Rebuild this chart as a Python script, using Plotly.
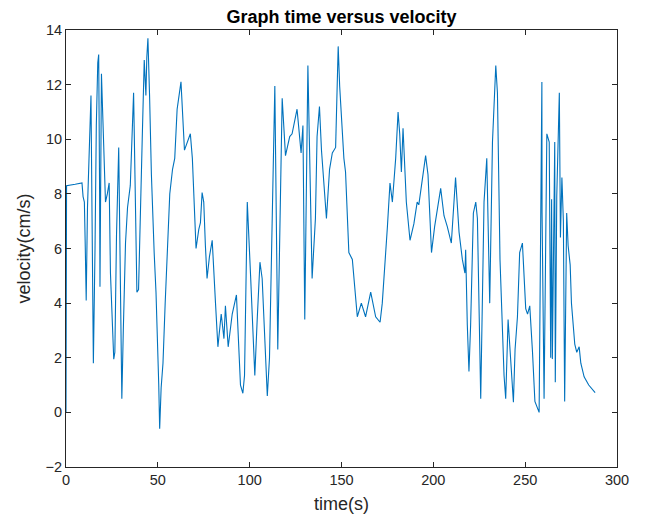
import plotly.graph_objects as go

time_s = [0, 0.3, 5, 8.7, 9.3, 10, 10.5, 11, 11.7, 12.4, 13.6, 14.2, 14.9, 15.8, 16.5, 17.3, 17.8, 18.3, 18.5,
          19.3, 20.5, 21.5, 22.5, 23.5, 24.2, 25, 26, 26.6, 27.5, 28.7, 29.5, 30.4, 31.2, 32.4, 33.5, 35,
          36.8, 37.5, 38.6, 39.5, 40.5, 41.5, 42.6, 43.5, 44, 44.6, 45.5, 46.5, 48, 49, 50.5, 51, 51.8, 52.8,
          54, 55, 56.5, 58, 59.2, 60.5, 62.6, 64.5, 66.8, 67.7, 68.8, 70.8, 72.3, 73.2,
          74.1, 75, 75.9, 76.8, 78.1, 79.6, 81.4, 82.7, 84.5, 86, 86.8, 88.3, 90.5, 92.8, 95, 96.3, 97.2,
          98.7, 100.5, 102.8, 104.1, 105.6, 106.8, 109.6, 110.8,
          113.7, 115.3, 117.7, 119.5, 121.8, 123.1, 125.8, 128, 129, 130, 131.7, 134, 135.8, 136.7, 138,
          139.1, 140, 141.8, 143.5, 145, 146.8, 148.2, 149,
          150.4, 151.3, 152.2, 153.1, 154, 155.9, 158.6, 160.8, 163.1, 165.9, 168.6, 171, 172.2, 175, 176.4,
          177.7, 179.5, 180.8, 181.7, 182.6, 183.5, 185.3, 187.3,
          189.4, 191.2, 192.1, 193.4, 194.9, 195.8, 197.1, 199, 200.7, 202.7, 204, 205.8, 207.6, 209.8,
          210.9, 212.1, 214, 215.8, 217.2, 217.6, 218.5, 219.4, 220.3, 221.8, 223.1, 224, 225.8,
          227.6, 229.1, 230.7, 232.2, 234, 234.9, 236.3, 238.5, 239.4, 240.7, 242.2, 243.6, 244.5, 245.8,
          247, 248.5, 249.1, 250.3, 251.3, 252.5, 254, 255.3, 257.6, 259.1, 259.2, 260.3, 261.8, 263.1, 263.9,
          264.4, 264.8, 265.7, 266.1, 266.4, 267.2, 268.6, 269.2, 270, 270.8, 271.5, 272.6, 273.4, 274.5,
          275.2, 276.1, 277, 278.1, 279.4, 280.3, 282.1, 284.6, 286.6, 288.1]

velocity = [0.0, 8.3, 8.35, 8.4, 7.9, 7.7, 6.0, 4.1, 7.5, 9.3, 11.6, 7.0, 1.8, 6.0, 10.5, 12.8, 13.1, 8.0, 4.6,
            12.4, 10.0, 7.7, 8.0, 8.4, 5.1, 3.5, 1.95, 2.2, 6.5, 9.7, 5.0, 0.5, 3.0, 6.2, 7.5, 8.3,
            11.7, 9.0, 4.4, 4.5, 6.8, 10.0, 12.9, 11.6, 13.0, 13.7, 11.6, 8.7, 5.85, 4.4, 1.0, -0.6, 0.9, 1.8,
            4.0, 5.6, 8.0, 8.9, 9.3, 11.1, 12.1, 9.6, 10.0, 10.2, 9.3, 6.0, 6.7, 6.95,
            8.05, 7.7, 6.1, 4.9, 5.7, 6.3, 4.0, 2.4, 3.6, 2.7, 3.9, 2.4, 3.6, 4.3, 1.0, 0.7, 1.35,
            7.7, 5.0, 1.35, 3.4, 5.5, 4.9, 0.6, 2.0,
            11.95, 2.3, 11.5, 9.4, 10.1, 10.2, 11.1, 9.5, 10.5, 3.4, 12.7, 4.9, 7.1, 10.1, 11.2,
            9.6, 8.7, 7.1, 8.9, 9.5, 9.7, 13.4, 11.95,
            10.5, 9.3, 8.8, 7.3, 5.85, 5.6, 3.5, 4.0, 3.5, 4.4, 3.5, 3.3, 4.0, 6.8, 8.4,
            7.7, 9.3, 11.0, 10.2, 8.8, 10.4, 7.7, 6.3,
            6.9, 7.7, 7.6, 8.2, 9.0, 9.4, 8.7, 5.85, 6.8, 7.7, 8.2, 7.2, 6.8, 6.2,
            7.3, 8.6, 6.6, 5.6, 5.1, 5.95, 3.2, 1.5, 3.2, 7.3, 7.7, 7.1, 0.5,
            7.7, 9.3, 4.0, 9.9, 12.7, 11.7, 5.6, 1.35, 0.5, 3.4, 1.7, 0.37, 2.3, 3.5,
            5.85, 6.2, 5.4, 3.8, 3.6, 3.9, 2.2, 0.4, 0.0, 12.1, 7.3, 0.5, 10.2, 9.9, 2.0,
            7.8, 1.95, 6.2, 9.9, 1.1, 7.9, 11.7, 6.4, 8.6, 7.0, 0.4, 7.3, 6.1, 5.4,
            4.0, 3.2, 2.5, 2.2, 2.4, 1.8, 1.3, 1.0, 0.85, 0.72]

x_ticks = [0, 50, 100, 150, 200, 250, 300]
y_ticks = [-2, 0, 2, 4, 6, 8, 10, 12, 14]

FONT = "Liberation Sans, Arial, sans-serif"

fig = go.Figure()
fig.add_trace(go.Scatter(x=time_s, y=velocity, mode="lines",
                         line=dict(color="#0072BD", width=1.1), showlegend=False))

axis_common = dict(showline=True, linecolor="#262626", linewidth=1, mirror="ticks",
                   ticks="inside", ticklen=5, tickcolor="#262626", showgrid=False, zeroline=False,
                   tickfont=dict(family=FONT, size=14.5, color="#262626"))

fig.update_layout(
    width=637, height=513,
    paper_bgcolor="white", plot_bgcolor="white",
    margin=dict(l=58, r=28, t=22, b=54),
    title=dict(text="<b>Graph time versus velocity</b>", x=0.5, xref="paper", xanchor="center",
               y=1, yref="paper", yanchor="bottom", pad=dict(b=7),
               font=dict(family=FONT, size=18, color="#000000")),
    xaxis=dict(range=[0, 300], tickvals=x_ticks,
               title=dict(text="time(s)", standoff=9,
                          font=dict(family=FONT, size=18, color="#262626")),
               **axis_common),
    yaxis=dict(range=[-2, 14], tickvals=y_ticks,
               title=dict(text="velocity(cm/s)", standoff=10,
                          font=dict(family=FONT, size=18, color="#262626")),
               **axis_common),
)

fig.write_html("out.html")
